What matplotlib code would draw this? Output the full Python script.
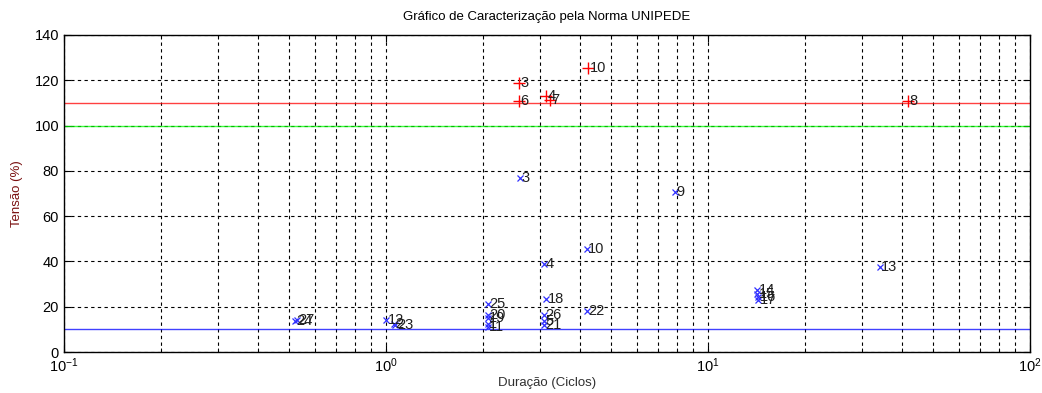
import matplotlib
matplotlib.use("Agg")
import matplotlib.pyplot as plt
from matplotlib.ticker import LogLocator, FixedLocator, NullFormatter

plt.rcParams['font.family'] = ['Liberation Sans', 'DejaVu Sans']

# Overvoltage events (duration in cycles, voltage in %)
over_ids = ["10", "3", "6", "4", "7", "8"]
over_dur = [4.24, 2.59, 2.59, 3.15, 3.22, 41.8]
over_volt = [125.4, 118.8, 110.8, 113.0, 111.2, 111.0]

# Undervoltage events (duration in cycles, voltage in %)
under_ids = ["3", "9", "10", "4", "13", "18", "22", "25", "20", "19", "1", "11",
             "26", "5", "21", "14", "15", "16", "17", "24", "27", "12", "2", "23"]
under_dur = [2.6, 7.9, 4.2, 3.1, 34.2, 3.15, 4.2, 2.07, 2.07, 2.07, 2.07, 2.07,
             3.1, 3.1, 3.1, 14.2, 14.2, 14.3, 14.3, 0.52, 0.53, 1.0, 1.06, 1.07]
under_volt = [77.0, 70.7, 45.5, 38.9, 37.5, 23.4, 18.1, 21.2, 16.5, 15.0, 12.5, 11.0,
              16.3, 13.5, 11.9, 27.2, 25.6, 24.3, 23.0, 13.5, 14.0, 14.1, 12.5, 11.8]

# Reference limits of the characterization
limit_levels = [110, 100, 10]
limit_colors = ["#ff0000", "#00ff00", "#0000ff"]

title = "Gráfico de Caracterização pela Norma UNIPEDE"
xlabel = "Duração (Ciclos)"
ylabel = "Tensão (%)"

fig = plt.figure(figsize=(10.42, 3.93), dpi=100)
ax = fig.add_axes([0.0614, 0.1043, 0.9271, 0.8067])

for lvl, col in zip(limit_levels, limit_colors):
    ax.axhline(lvl, color=col, lw=1.0, alpha=0.75, zorder=2)

ax.plot(over_dur, over_volt, linestyle="none", marker="+", color="red",
        markersize=8, markeredgewidth=1.0, zorder=3)
for lab, x, y in zip(over_ids, over_dur, over_volt):
    ax.annotate(lab, (x, y), xytext=(1, 0), textcoords="offset points",
                va="center", ha="left", fontsize=10.5, color="#202020", zorder=4)

ax.plot(under_dur, under_volt, linestyle="none", marker="x", color="#3030ff",
        markersize=4, markeredgewidth=0.9, zorder=3)
for lab, x, y in zip(under_ids, under_dur, under_volt):
    ax.annotate(lab, (x, y), xytext=(1, 0), textcoords="offset points",
                va="center", ha="left", fontsize=10.5, color="#202020", zorder=4)

ax.set_xscale("log")
ax.set_xlim(0.1, 100)
ax.set_ylim(0, 140)
ax.set_yticks(range(0, 141, 20))
ax.xaxis.set_major_locator(FixedLocator([0.1, 1, 10, 100]))
ax.xaxis.set_minor_locator(LogLocator(base=10, subs=range(2, 10)))
ax.xaxis.set_minor_formatter(NullFormatter())

ax.grid(True, which="major", axis="both", color="black", linestyle=(0, (3, 3)), lw=0.8)
ax.grid(True, which="minor", axis="x", color="black", linestyle=(0, (3, 3)), lw=0.8)

ax.tick_params(which="both", direction="in", top=True, right=True, labelsize=10.5)
ax.tick_params(which="major", length=5)
ax.tick_params(which="minor", length=3)
for sp in ax.spines.values():
    sp.set_linewidth(1.0)

ax.set_title(title, fontsize=9.5, pad=11)
ax.set_xlabel(xlabel, fontsize=9.5, color="#303030", labelpad=1)
ax.set_ylabel(ylabel, fontsize=9.5, color="#7a1010", labelpad=8)

fig.savefig("out.png", dpi=100)
